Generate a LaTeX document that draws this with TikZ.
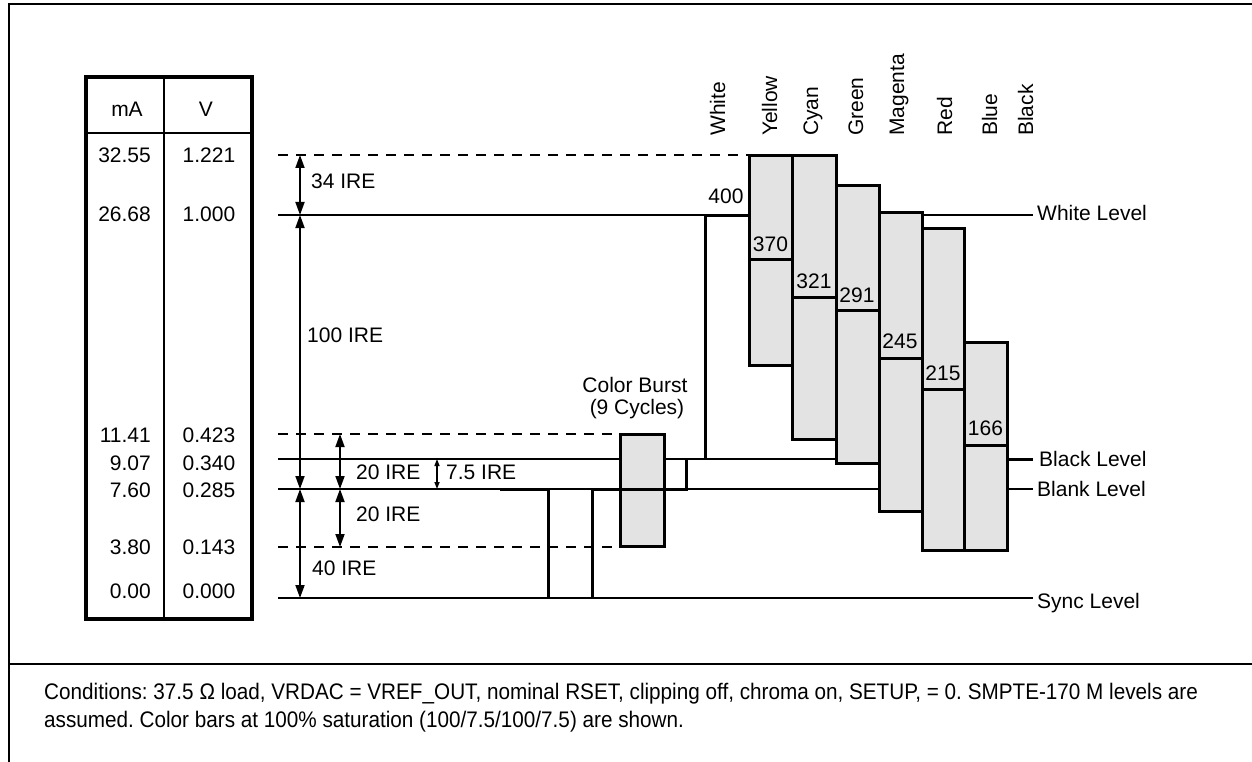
\documentclass[tikz,border=0pt]{standalone}
\usepackage{fontspec}
\setmainfont{Liberation Sans}
\newfontfamily\capfont[FakeStretch=0.92]{Liberation Sans}
\usetikzlibrary{arrows.meta,patterns}
\frenchspacing
\begin{document}
\begin{tikzpicture}[x=1pt,y=-1pt,
  lbl/.style={font=\fontsize{21}{25}\selectfont, inner sep=0pt},
  captext/.style={font=\capfont\fontsize{22.5}{27}\selectfont, inner sep=0pt, anchor=base west},
  numlbl/.style={lbl, anchor=base},
  collbl/.style={lbl, rotate=90, anchor=base west},
  levelline/.style={line width=1.6pt},
  wave/.style={line width=3pt},
  frameline/.style={line width=2pt},
  dashline/.style={line width=1.3pt, dash pattern=on 10pt off 8pt},
  bar/.style={fill=black!11},
  barborder/.style={draw=black, line width=3pt, line join=miter},
  dim/.style={line width=1.8pt, {Triangle[length=13pt,width=9pt]}-{Triangle[length=13pt,width=9pt]}},
  smalldim/.style={line width=1.5pt, {Triangle[length=7pt,width=5pt]}-{Triangle[length=7pt,width=5pt]}},
]
\useasboundingbox (0,0) rectangle (1252,762);
% frame
\draw[frameline] (1252,4) -- (9,4) -- (9,762);
\draw[frameline] (9,664) -- (1252,664);

% table
\draw[line width=3.3pt] (86,77) rectangle (252,619);
\draw[line width=2pt] (164,77) -- (164,619);
\draw[line width=2pt] (86,133) -- (252,133);
\node[lbl, anchor=base] (hma) at (127,116.5) {mA};
\node[lbl, anchor=base] (hv) at (206,116.5) {V};
\foreach \ma/\v/\yy [count=\i] in {32.55/1.221/162.5, 26.68/1.000/221.5, 11.41/0.423/442.5, 9.07/0.340/470.5, 7.60/0.285/497.5, 3.80/0.143/554.5, 0.00/0.000/598.5}{
  \node[lbl, anchor=base east] (ma\i) at (151,\yy) {\ma};
  \node[lbl, anchor=base] (v\i) at (209,\yy) {\v};
}

% level coordinates
\coordinate (topL) at (278,155);
\coordinate (whiteL) at (278,215);
\coordinate (burstTopL) at (278,434);
\coordinate (blackL) at (278,459);
\coordinate (blankL) at (278,489);
\coordinate (burstBotL) at (278,547);
\coordinate (syncL) at (278,598);

% dashed levels
\draw[dashline] (topL) -- (749,155);
\draw[dashline] (burstTopL) -- (620,434);
\draw[dashline] (burstBotL) -- (620,547);

% solid levels
\draw[levelline] (whiteL) -- (705,215);
\draw[levelline] (922,215) -- (1033,215);
\draw[levelline] (blackL) -- (836,459);
\draw[line width=3pt] (1007,459) -- (1033,459);
\draw[levelline] (blankL) -- (879,489);
\draw[levelline] (1007,489) -- (1033,489);
\draw[levelline] (syncL) -- (1033,598);

% level labels
\node[lbl, anchor=base west] (wlev) at (1037,220.5) {White Level};
\node[lbl, anchor=base west] (blev) at (1039,466.5) {Black Level};
\node[lbl, anchor=base west] (bklev) at (1037,496.5) {Blank Level};
\node[lbl, anchor=base west] (slev) at (1037,608) {Sync Level};

% color burst
\fill[bar] (620,434) rectangle (664,546);
\draw[barborder] (620,434) rectangle (664,546);
\node[lbl, anchor=base] (cb1) at (635,392) {Color Burst};
\node[lbl, anchor=base] (cb2) at (637,414.5) {(9 Cycles)};

% waveform
\draw[wave] (500,489) -- (548,489) -- (548,598);
\draw[wave] (592,598) -- (592,489) -- (686,489) -- (686,459);
\draw[wave] (705,459) -- (705,215) -- (749,215);

% color bars
\fill[bar] (749,156) rectangle (792,365);
\fill[bar] (792,156) rectangle (836,439);
\fill[bar] (836,186) rectangle (879,463);
\fill[bar] (879,212) rectangle (922,511);
\fill[bar] (922,228) rectangle (964,550);
\fill[bar] (964,342) rectangle (1007,550);
\draw[barborder] (749,156) rectangle (792,365);
\draw[barborder] (792,156) rectangle (836,439);
\draw[barborder] (836,186) rectangle (879,463);
\draw[barborder] (879,212) rectangle (922,511);
\draw[barborder] (922,228) rectangle (964,550);
\draw[barborder] (964,342) rectangle (1007,550);
\draw[wave] (749,259) -- (792,259);
\draw[wave] (792,297) -- (836,297);
\draw[wave] (836,310) -- (879,310);
\draw[wave] (879,358) -- (922,358);
\draw[wave] (922,389) -- (964,389);
\draw[wave] (964,445) -- (1007,445);

% bar values
\node[lbl, anchor=base] (n400) at (726,204) {400};
\node[numlbl] (n370) at (770.5,251) {370};
\node[numlbl] (n321) at (814,288) {321};
\node[numlbl] (n291) at (857,302) {291};
\node[numlbl] (n245) at (900,348) {245};
\node[numlbl] (n215) at (943,380) {215};
\node[numlbl] (n166) at (985.5,435) {166};

% column labels
\node[collbl] (cw) at (725,136) {White};
\node[collbl] (cy) at (777,136) {Yellow};
\node[collbl] (cc) at (818,136) {Cyan};
\node[collbl] (cg) at (863,136) {Green};
\node[collbl] (cm) at (904,136) {Magenta};
\node[collbl] (cr) at (952,136) {Red};
\node[collbl] (cbl) at (997,136) {Blue};
\node[collbl] (cbk) at (1033,136) {Black};

% IRE dimensions
\coordinate (a1) at (300,155);
\coordinate (a2) at (300,215);
\coordinate (a3) at (300,489);
\coordinate (a4) at (300,598);
\coordinate (b1) at (340,434);
\coordinate (b2) at (340,489);
\coordinate (b3) at (340,547);
\coordinate (c1) at (437,459);
\coordinate (c2) at (437,489);
\draw[dim] (a1) -- (a2);
\draw[dim] (a2) -- (a3);
\draw[dim] (a3) -- (a4);
\draw[dim] (b1) -- (b2);
\draw[dim] (b2) -- (b3);
\draw[smalldim] (c1) -- (c2);
\node[lbl, anchor=base west] (i34) at (311,188.5) {34 IRE};
\node[lbl, anchor=base west] (i100) at (307,342.5) {100 IRE};
\node[lbl, anchor=base west] (i20a) at (356,479.5) {20 IRE};
\node[lbl, anchor=base west] (i75) at (446,479.5) {7.5 IRE};
\node[lbl, anchor=base west] (i20b) at (356,521.5) {20 IRE};
\node[lbl, anchor=base west] (i40) at (312,575.5) {40 IRE};

% caption
\node[captext] (cap1) at (44,699) {Conditions: 37.5 Ω load, VRDAC = VREF\_OUT, nominal RSET, clipping off, chroma on, SETUP, = 0. SMPTE-170 M levels are};
\node[captext] (cap2) at (44,727) {assumed. Color bars at 100\% saturation (100/7.5/100/7.5) are shown.};
\end{tikzpicture}
\end{document}
